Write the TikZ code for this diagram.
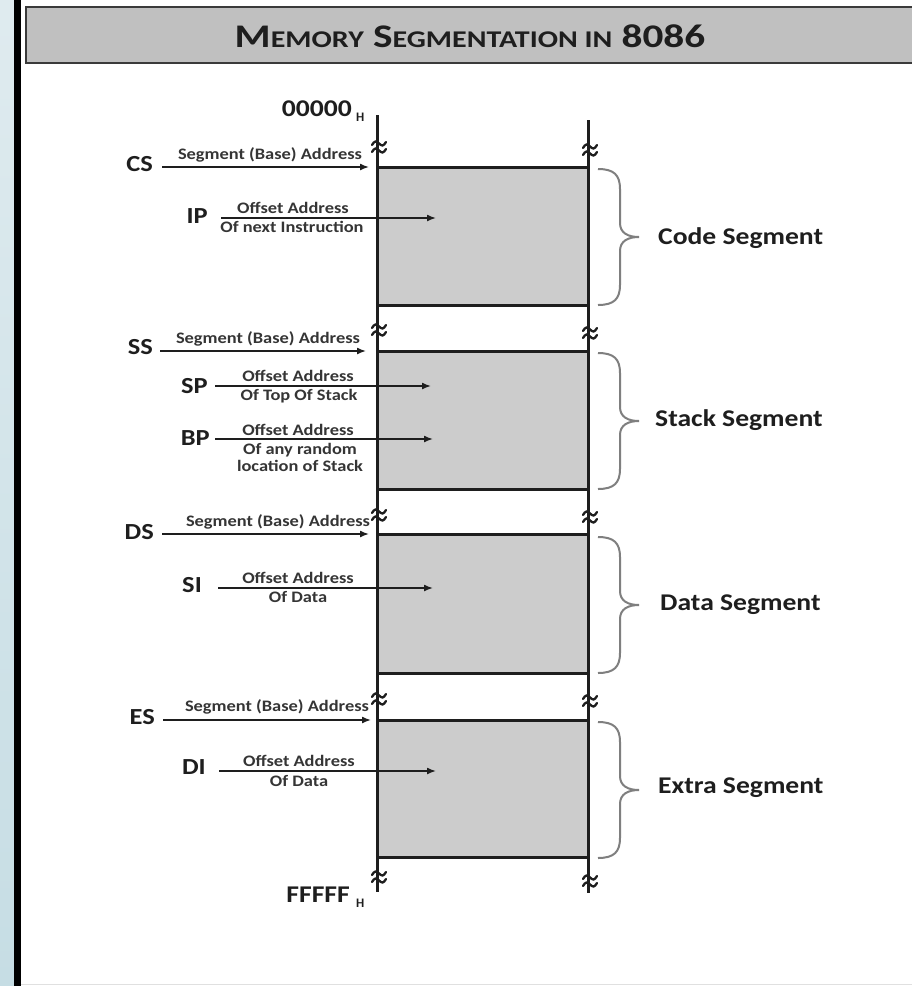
\documentclass[tikz,border=0pt]{standalone}
\usepackage{fontspec}
\setmainfont{Carlito}[BoldFont={Carlito Bold}]
\newfontfamily\wide{Carlito}[FakeStretch=1.15,BoldFont={Carlito Bold}]
\newfontfamily\widetitle{Carlito}[FakeStretch=1.25,BoldFont={Carlito Bold}]
\usetikzlibrary{arrows.meta,calc}
\definecolor{hdrfill}{HTML}{C0C0C0}
\definecolor{hdrline}{HTML}{3A3A3A}
\definecolor{boxfill}{HTML}{CCCCCC}
\definecolor{ink}{HTML}{1E1E1E}
\definecolor{bracegray}{HTML}{7F7F7F}
\definecolor{stripTop}{HTML}{DFEBEF}
\definecolor{stripBot}{HTML}{C6DDE4}
\tikzset{
  vline/.style={line width=3pt, draw=ink},
  segbox/.style={line width=3pt, draw=ink, fill=boxfill},
  arr/.style={line width=1.5pt, draw=ink, -{Latex[length=9pt,width=7pt]}},
  reg/.style={inner sep=0pt, text=ink, font=\wide\bfseries\fontsize{23}{23}\selectfont},
  lbl/.style={inner sep=1pt, text=ink!90, font=\wide\bfseries\fontsize{16}{17}\selectfont},
  seglbl/.style={anchor=west, inner sep=0pt, text=ink, font=\wide\bfseries\fontsize{24}{24}\selectfont},
  wave/.style={line width=2.3pt, draw=ink, line cap=round},
  brc/.style={line width=2pt, draw=bracegray},
  addr/.style={inner sep=0pt, text=ink, font=\wide\bfseries\fontsize{24}{24}\selectfont}
}
\newcommand\segbrace[2]{%
  \pgfmathsetmacro\ym{(#1+#2)/2}%
  \draw[brc] (598,#1) .. controls (614,#1) and (620,#1+6) .. (620,#1+20)
     -- (620,\ym-14) .. controls (620,\ym-4) and (628,\ym) .. (639,\ym)
     .. controls (628,\ym) and (620,\ym+4) .. (620,\ym+14)
     -- (620,#2-20) .. controls (620,#2-6) and (614,#2) .. (598,#2);
}
% break mark: two wavy strokes centred at (#1,#2)
\newcommand\brkmark[2]{%
  \draw[wave] (#1-7,#2-2) sin (#1-3.5,#2-5.5) cos (#1,#2-3.5) sin (#1+3.5,#2-1.5) cos (#1+7,#2-5);
  \draw[wave] (#1-7,#2+5) sin (#1-3.5,#2+1.5) cos (#1,#2+3.5) sin (#1+3.5,#2+5.5) cos (#1+7,#2+2);
}
\begin{document}
\begin{tikzpicture}[x=1pt,y=-1pt]
\useasboundingbox (0,0) rectangle (912,986);
\fill[white] (0,0) rectangle (912,986);
% left strip
\shade[top color=stripTop, bottom color=stripBot] (0,0) rectangle (14,986);
\fill[black] (14,0) rectangle (21,986);
\draw[black!12, line width=1pt] (21,984) -- (912,984);
% header
\draw[line width=2.2pt, draw=hdrline, fill=hdrfill] (26,7) rectangle (920,63);
\node[text=ink, inner sep=0pt] (title) at (470,36)
  {\widetitle\bfseries\fontsize{33}{33}\selectfont M{\fontsize{24}{24}\selectfont EMORY} S{\fontsize{24}{24}\selectfont EGMENTATION IN} 8086};

% vertical memory lines
\coordinate (Ltop) at (377,115);
\coordinate (Lbot) at (377,892);
\coordinate (Rtop) at (588,120);
\coordinate (Rbot) at (588,893);
\draw[vline] (Ltop) -- (Lbot);
\draw[vline] (Rtop) -- (Rbot);

% segment boxes
\draw[segbox] (377,167) rectangle (588,305);
\draw[segbox] (377,351) rectangle (588,489);
\draw[segbox] (377,534) rectangle (588,673);
\draw[segbox] (377,720) rectangle (588,857);

% break marks
\foreach \yy in {147,330,515,699,877}{ \brkmark{379}{\yy} }
\foreach \yy in {150,333,517,701,881}{ \brkmark{590}{\yy} }

% addresses
\node[addr, anchor=east] (top) at (352,109) {00000};
\node[inner sep=0pt, text=ink, font=\bfseries\fontsize{13}{13}\selectfont, anchor=west] (toph) at (356,117) {H};
\node[addr, anchor=east] (bot) at (350,895) {FFFFF};
\node[inner sep=0pt, text=ink, font=\bfseries\fontsize{13}{13}\selectfont, anchor=west] (both) at (356,903) {H};

% ---------- Code segment
\node[reg, anchor=east] (cs) at (153,164) {CS};
\coordinate (csT) at (369,167);
\draw[arr] ($(cs.east |- csT)+(9,0)$) -- (csT);
\node[lbl, anchor=south] (csL) at (270,163) {Segment (Base) Address};
\node[reg, anchor=east] (ip) at (208,216) {IP};
\coordinate (ipT) at (436,218);
\draw[arr] ($(ip.east |- ipT)+(13,0)$) -- (ipT);
\node[lbl, anchor=south] (ipL1) at (293,215) {Offset Address};
\node[lbl, anchor=north] (ipL2) at (292,220) {Of next Instruction};
\segbrace{169}{305}
\node[seglbl] (codeS) at (658,238) {Code Segment};

% ---------- Stack segment
\node[reg, anchor=east] (ss) at (153,347) {SS};
\coordinate (ssT) at (366,351);
\draw[arr] ($(ss.east |- ssT)+(7,0)$) -- (ssT);
\node[lbl, anchor=south] (ssL) at (268,347) {Segment (Base) Address};
\node[reg, anchor=east] (sp) at (208,386) {SP};
\coordinate (spT) at (431,386);
\draw[arr] ($(sp.east |- spT)+(7,0)$) -- (spT);
\node[lbl, anchor=south] (spL1) at (298,383) {Offset Address};
\node[lbl, anchor=north] (spL2) at (299,388) {Of Top Of Stack};
\node[reg, anchor=east] (bp) at (210,438) {BP};
\coordinate (bpT) at (433,439);
\draw[arr] ($(bp.east |- bpT)+(5,0)$) -- (bpT);
\node[lbl, anchor=south] (bpL1) at (298,437) {Offset Address};
\node[lbl, anchor=north, align=center] (bpL2) at (300,442) {Of any random\\location of Stack};
\segbrace{353}{489}
\node[seglbl] (stackS) at (655,420) {Stack Segment};

% ---------- Data segment
\node[reg, anchor=east] (ds) at (154,532) {DS};
\coordinate (dsT) at (369,534);
\draw[arr] ($(ds.east |- dsT)+(8,0)$) -- (dsT);
\node[lbl, anchor=south] (dsL) at (278,530) {Segment (Base) Address};
\node[reg, anchor=east] (si) at (202,585) {SI};
\coordinate (siT) at (433,588);
\draw[arr] ($(si.east |- siT)+(16,0)$) -- (siT);
\node[lbl, anchor=south] (siL1) at (298,585) {Offset Address};
\node[lbl, anchor=north] (siL2) at (298,590) {Of Data};
\segbrace{537}{673}
\node[seglbl] (dataS) at (660,605) {Data Segment};

% ---------- Extra segment
\node[reg, anchor=east] (es) at (155,717) {ES};
\coordinate (esT) at (371,720);
\draw[arr] ($(es.east |- esT)+(8,0)$) -- (esT);
\node[lbl, anchor=south] (esL) at (277,715) {Segment (Base) Address};
\node[reg, anchor=east] (di) at (206,767) {DI};
\coordinate (diT) at (436,771);
\draw[arr] ($(di.east |- diT)+(13,0)$) -- (diT);
\node[lbl, anchor=south] (diL1) at (299,768) {Offset Address};
\node[lbl, anchor=north] (diL2) at (299,774) {Of Data};
\segbrace{722}{858}
\node[seglbl] (extraS) at (658,788) {Extra Segment};
\end{tikzpicture}
\end{document}
